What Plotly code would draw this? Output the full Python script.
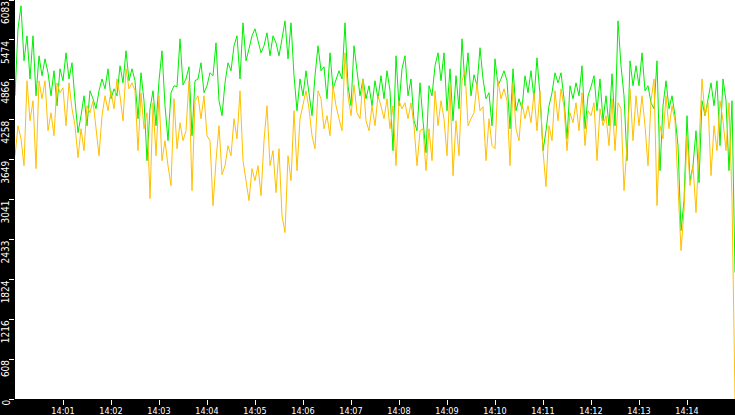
import pandas as pd
import plotly.graph_objects as go

# samples every 3.75 s from 14:00:00 to 14:15:00
times = pd.date_range("2024-01-01 14:00:00", periods=241, freq="3750ms")

green = [
    4623, 5645, 5994, 5156, 5537, 4880, 5537, 4623, 5232, 4928, 5186, 4974, 4623, 5004, 4471, 5034, 4852, 5278, 4880, 5126,
    4547, 4060, 4319, 4623, 4166, 4699, 4577, 4425, 4699, 4880, 4730, 5034, 4577, 4730, 4623, 5080, 4820, 5309, 4852, 5034,
    4852, 4273, 4974, 4547, 3633, 4425, 4699, 4166, 4852, 5309, 4471, 3938, 4669, 4776, 4760, 5491, 4790, 4880, 5065, 4014,
    4852, 4880, 5126, 4669, 4776, 4974, 4928, 5430, 4547, 4319, 4820, 5126, 5004, 5385, 5537, 4880, 5735, 5156, 5339, 5537,
    5644, 5461, 5278, 5385, 5583, 5232, 5537, 5430, 5232, 5491, 5765, 5186, 5735, 4928, 4395, 4880, 4623, 5004, 4669, 4319,
    4928, 5385, 5004, 5065, 4577, 5278, 4730, 4880, 5004, 4880, 5735, 4776, 4471, 5385, 5034, 4623, 4880, 4577, 4776, 4471,
    4852, 4577, 4928, 4577, 5004, 4699, 3786, 5232, 4471, 5034, 5232, 4623, 4880, 4242, 4090, 4820, 4242, 3755, 4776, 4623,
    5080, 5278, 4852, 5278, 4395, 5034, 4242, 4928, 4425, 5491, 4776, 5278, 4623, 4943, 4776, 5355, 4880, 4577, 4669, 4166,
    5186, 4776, 4880, 5004, 4852, 4120, 5034, 4395, 4577, 4425, 4928, 4669, 5004, 4577, 5202, 4623, 3786, 4090, 4471, 4669,
    4973, 4820, 4973, 4577, 3968, 4776, 4577, 4820, 4623, 5080, 4120, 4623, 4760, 4928, 4395, 4880, 4242, 4623, 4166, 4958,
    4166, 5765, 5080, 4623, 3633, 5156, 4776, 5080, 4776, 5278, 4699, 4776, 4516, 4425, 5156, 3481, 4471, 4852, 4425, 4623,
    4319, 3862, 2567, 3024, 4319, 3329, 3557, 4090, 3298, 4547, 4319, 4547, 4820, 4471, 4852, 3862, 4880, 4547, 3481, 4547,
    1928,
]

orange = [
    3709, 4166, 3968, 3557, 4852, 4242, 4547, 3512, 4852, 4577, 4852, 4090, 4364, 4014, 4820, 4669, 4745, 4166, 4820, 4425,
    4166, 3679, 4120, 3786, 4471, 4364, 4547, 4090, 3709, 4319, 4623, 4395, 4699, 4425, 4880, 4623, 4242, 5034, 4730, 4820,
    4699, 3786, 4669, 4120, 4364, 3055, 4516, 3709, 4623, 3633, 3938, 3557, 3253, 4577, 3816, 4212, 3938, 4090, 4852, 3176,
    4547, 4623, 4273, 4623, 4014, 3938, 2948, 3633, 4166, 3420, 3557, 3862, 3709, 4273, 3968, 4699, 3633, 3329, 3024, 3512,
    3329, 3557, 3100, 3938, 4471, 3557, 3786, 3146, 3816, 2796, 2537, 3709, 3329, 4395, 3481, 4273, 4471, 4699, 4425, 4014,
    3816, 4699, 4577, 4120, 4319, 4014, 4776, 4471, 4273, 4090, 5278, 4623, 4319, 4790, 4364, 4273, 4880, 4242, 4090, 4471,
    4166, 4623, 4471, 4273, 4577, 4120, 4471, 3557, 4547, 4425, 4516, 4273, 4516, 4166, 3557, 4090, 4120, 3481, 4120, 3633,
    4699, 4166, 4547, 4273, 3709, 4776, 3405, 4242, 3709, 4852, 5004, 4166, 4273, 4364, 4820, 4395, 4456, 3633, 4273, 3862,
    3816, 4852, 4577, 4730, 4547, 3557, 4820, 4120, 3938, 4516, 4273, 4471, 4212, 4669, 4090, 4699, 3786, 3237, 4166, 3938,
    4699, 4242, 4730, 4456, 3786, 4364, 4212, 4516, 4090, 4669, 3862, 4395, 4319, 4516, 3633, 4425, 4166, 4319, 3862, 4577,
    3786, 4516, 4425, 3176, 3862, 4730, 3938, 4623, 4166, 4623, 4166, 3557, 4547, 4880, 2948, 4166, 3968, 4623, 4120, 4471,
    4242, 3253, 2263, 2872, 4014, 3253, 3557, 2841, 3938, 4880, 4319, 4516, 3405, 4166, 3786, 4547, 4242, 3786, 4517, 3054,
    0,
]

y_ticks = [0, 608, 1216, 1824, 2433, 3041, 3649, 4258, 4866, 5474, 6083]
x_ticks = pd.date_range("2024-01-01 14:01:00", "2024-01-01 14:14:00", freq="1min")

label_font = "Liberation Sans Narrow, DejaVu Sans Condensed, sans-serif"

fig = go.Figure()
fig.add_trace(go.Scatter(x=times, y=green, mode="lines",
                         line=dict(color="#00ee00", width=1)))
fig.add_trace(go.Scatter(x=times, y=orange, mode="lines",
                         line=dict(color="#ffc000", width=1)))

# y labels: rotated, ending at the tick
for v in y_ticks:
    fig.add_annotation(x=0, xref="paper", y=v, yref="y", text=str(v),
                       textangle=-90, showarrow=False, xanchor="right",
                       yanchor="top", xshift=-3, borderpad=0,
                       font=dict(color="white", size=10, family=label_font))

fig.update_layout(
    template="none",
    width=735, height=415,
    margin=dict(l=15, r=0, t=0, b=16),
    paper_bgcolor="black",
    plot_bgcolor="white",
    showlegend=False,
)
fig.update_xaxes(
    range=[pd.Timestamp("2024-01-01 14:00:00"), pd.Timestamp("2024-01-01 14:15:00")],
    tickvals=x_ticks, tickformat="%H:%M",
    ticks="outside", ticklen=5, tickcolor="white", tickwidth=1,
    ticklabelstandoff=-2,
    tickfont=dict(color="white", size=9, family=label_font),
    showgrid=False, zeroline=False, showline=False, automargin=False,
)
fig.update_yaxes(
    range=[0, 6083], tickvals=y_ticks, showticklabels=False,
    ticks="outside", ticklen=5, tickcolor="white", tickwidth=1,
    showgrid=False, zeroline=False, showline=False, automargin=False,
)

# drop the page's default body margin so the figure sits at the corner
fig.write_html("out.html", config={"displayModeBar": False},
               post_script="document.body.style.margin='0';")
